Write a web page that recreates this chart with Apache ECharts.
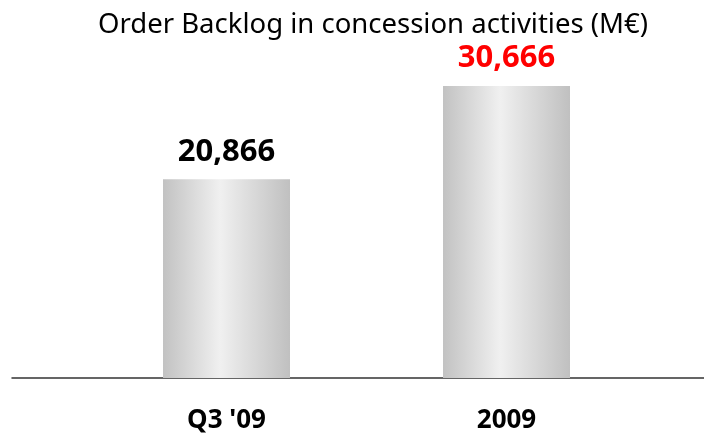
<!DOCTYPE html>
<html>
<head>
<meta charset="utf-8">
<script src="https://cdn.jsdelivr.net/npm/echarts@6/dist/echarts.min.js"></script>
<style>
  html, body { margin: 0; padding: 0; background: #fff; }
  #chart { width: 704px; height: 434px; }
</style>
</head>
<body>
<div id="chart"></div>
<script>
const categories = ["Q3 '09", "2009"]
const backlog = [20866, 30666]
const labelColors = ["#000000", "#ff0000"]

const chart = echarts.init(document.getElementById("chart"))

const barFill = new echarts.graphic.LinearGradient(0, 0, 1, 0, [
  { offset: 0, color: "#c2c2c2" },
  { offset: 0.45, color: "#f0f0f0" },
  { offset: 1, color: "#c0c0c0" },
])

chart.setOption({
  backgroundColor: "#fff",
  animation: false,
  title: {
    text: "Order Backlog in concession activities (M€)",
    left: 368,
    top: 6,
    textAlign: "center",
    textStyle: { fontFamily: "Noto Sans", fontSize: 27.5, fontWeight: "normal", color: "#000" },
  },
  grid: [
    { left: 86.5, right: 57.5, top: 44.7, bottom: 56 },
    { left: 12, right: 0, top: 44.7, bottom: 56 },
  ],
  xAxis: [
    {
      type: "category",
      data: categories,
      gridIndex: 0,
      axisLine: { show: false },
      axisTick: { show: false },
      axisLabel: {
        margin: 30,
        fontFamily: "Noto Sans",
        fontSize: 26,
        fontWeight: "bold",
        color: "#000",
      },
    },
    {
      type: "value",
      gridIndex: 1,
      axisLine: { show: true, lineStyle: { color: "#333", width: 1.5 } },
      axisTick: { show: false },
      axisLabel: { show: false },
      splitLine: { show: false },
    },
  ],
  yAxis: [
    { type: "value", min: 0, max: 35000, gridIndex: 0, show: false },
    { type: "value", gridIndex: 1, show: false },
  ],
  series: [
    {
      type: "bar",
      xAxisIndex: 0,
      yAxisIndex: 0,
      barWidth: 127,
      data: backlog.map((v, i) => ({
        value: v,
        label: { color: labelColors[i] },
      })),
      itemStyle: { color: barFill },
      label: {
        show: true,
        position: "top",
        distance: 12,
        fontFamily: "Noto Sans",
        fontSize: 31,
        fontWeight: "bold",
        formatter: (p) => p.value.toLocaleString("en-US"),
      },
    },
  ],
})
</script>
</body>
</html>
